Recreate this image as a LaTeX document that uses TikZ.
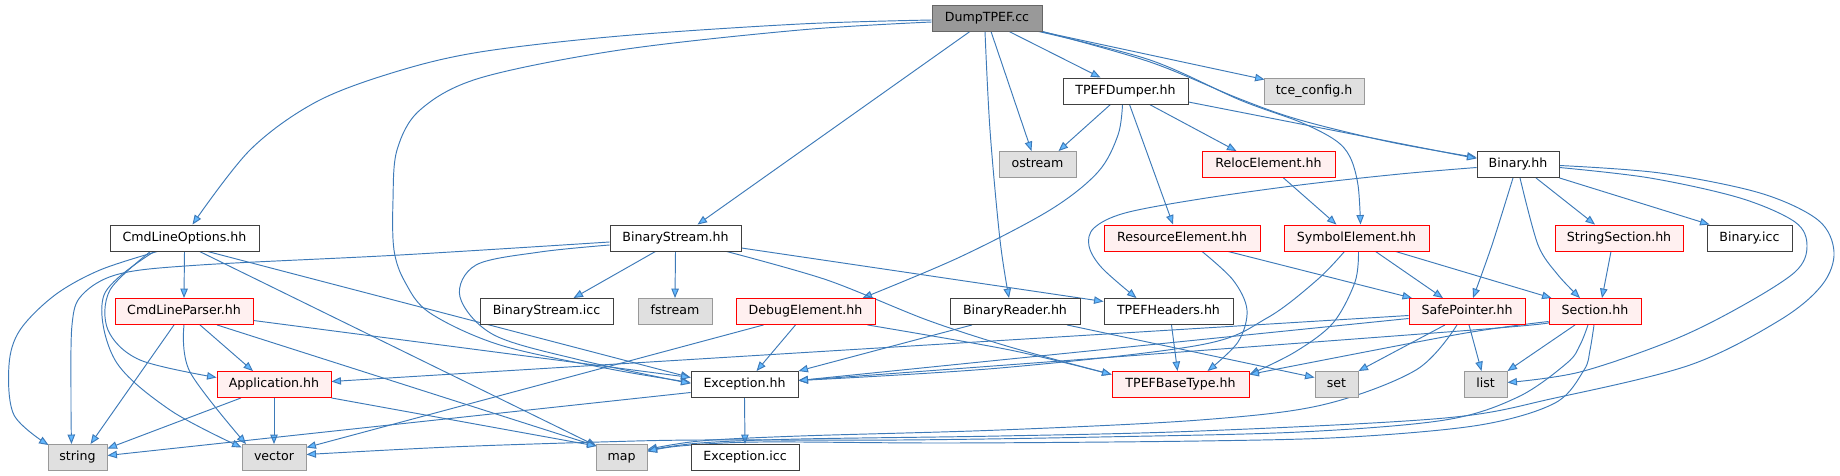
\documentclass[tikz,border=0pt]{standalone}
\usepackage{fontspec}
\setmainfont{DejaVu Sans}
\usetikzlibrary{arrows.meta}
\pgfdeclarelayer{bg}
\pgfsetlayers{bg,main}
\definecolor{edgec}{HTML}{3D7AB8}
\definecolor{arrowc}{HTML}{63B8FF}
\definecolor{wdraw}{HTML}{404040}
\definecolor{rfill}{HTML}{FFF0F0}
\definecolor{gfill}{HTML}{E0E0E0}
\definecolor{gdraw}{HTML}{999999}
\definecolor{dfill}{HTML}{999999}
\definecolor{ddraw}{HTML}{666666}
\begin{document}
\begin{tikzpicture}[x=1pt,y=-1pt,
  font=\fontsize{12.6}{15}\selectfont,
  box/.style={draw, line width=0.9pt, minimum height=26pt, inner sep=0pt, text height=9.6pt, text depth=3pt, anchor=center},
  wbox/.style={box, draw=wdraw, fill=white},
  rbox/.style={box, draw=red, fill=rfill},
  gbox/.style={box, draw=gdraw, fill=gfill},
  dbox/.style={box, draw=ddraw, fill=dfill},
  conn/.style={draw=edgec, line width=0.95pt, -{Triangle[length=9.5pt,width=7.5pt,fill=arrowc]}}
]
\useasboundingbox (0,0) rectangle (1840,476);

% row 0
\node[dbox, minimum width=110pt] (dump) at (987,18) {DumpTPEF.cc};
% row 1
\node[wbox, minimum width=125pt] (dumper) at (1125.5,91) {TPEFDumper.hh};
\node[gbox, minimum width=100pt] (tce) at (1314,91) {tce\_config.h};
% row 2
\node[gbox, minimum width=77pt] (ostream) at (1037.5,164.5) {ostream};
\node[rbox, minimum width=133pt] (reloc) at (1268.5,164.5) {RelocElement.hh};
\node[wbox, minimum width=82pt] (binary) at (1518,164.5) {Binary.hh};
% row 3
\node[wbox, minimum width=149pt] (cmdopt) at (184.5,238) {CmdLineOptions.hh};
\node[wbox, minimum width=131pt] (bstream) at (675.5,238) {BinaryStream.hh};
\node[rbox, minimum width=156pt] (resource) at (1182,238) {ResourceElement.hh};
\node[rbox, minimum width=145pt] (symbol) at (1356.5,238) {SymbolElement.hh};
\node[rbox, minimum width=128pt] (strsec) at (1619,238) {StringSection.hh};
\node[wbox, minimum width=85pt] (binicc) at (1749.5,238) {Binary.icc};
% row 4
\node[rbox, minimum width=138pt] (cmdparser) at (184,311.5) {CmdLineParser.hh};
\node[wbox, minimum width=133pt] (bsicc) at (546.5,311.5) {BinaryStream.icc};
\node[gbox, minimum width=74pt] (fstream) at (675,311.5) {fstream};
\node[rbox, minimum width=139pt] (debug) at (805.5,311.5) {DebugElement.hh};
\node[wbox, minimum width=130pt] (breader) at (1015,311.5) {BinaryReader.hh};
\node[wbox, minimum width=129pt] (headers) at (1168.5,311.5) {TPEFHeaders.hh};
\node[rbox, minimum width=116pt] (safeptr) at (1467,311.5) {SafePointer.hh};
\node[rbox, minimum width=92pt] (section) at (1595,311.5) {Section.hh};
% row 5
\node[rbox, minimum width=114pt] (app) at (274,384.5) {Application.hh};
\node[wbox, minimum width=107pt] (exc) at (744.5,384.5) {Exception.hh};
\node[rbox, minimum width=137pt] (basetype) at (1180.5,384.5) {TPEFBaseType.hh};
\node[gbox, minimum width=43pt] (set) at (1336.5,384.5) {set};
\node[gbox, minimum width=43pt] (list) at (1485.5,384.5) {list};
% row 6
\node[gbox, minimum width=59pt] (string) at (77.5,457.5) {string};
\node[gbox, minimum width=64pt] (vector) at (274,457.5) {vector};
\node[gbox, minimum width=51pt] (map) at (621.5,457.5) {map};
\node[wbox, minimum width=108pt] (excicc) at (745,457.5) {Exception.icc};

\begin{pgfonlayer}{bg}
% DumpTPEF.cc
\draw[conn] plot[smooth,tension=.55] coordinates {([yshift=-2pt]dump.west) (800,24) (620,36) (480,52) (395,72) (316,102) (250,150) ([xshift=8pt]cmdopt.north)};
\draw[conn] plot[smooth,tension=.55] coordinates {([yshift=-4pt]dump.west) (800,30) (620,50) (480,78) (420,110) (397,150) (393,200) (394,250) (405,282) (430,313) (500,345) (610,369) ([yshift=2pt]exc.west)};
\draw[conn] ([xshift=-17pt]dump.south) -- ([xshift=22pt]bstream.north);
\draw[conn] plot[smooth,tension=.55] coordinates {([xshift=-2pt]dump.south) (990,130) (1000,240) ([xshift=-6pt]breader.north)};
\draw[conn] ([xshift=4pt]dump.south) -- ([xshift=-6pt]ostream.north);
\draw[conn] ([xshift=22pt]dump.south) -- ([xshift=-25pt]dumper.north);
\draw[conn] ([xshift=-2pt]dump.south east) -- ([xshift=1pt,yshift=-2pt]tce.north west);
\draw[conn] plot[smooth,tension=.55] coordinates {(dump.south east) (1150,62) (1240,99) (1300,120) (1390,142) ([yshift=7pt]binary.west)};
\draw[conn] plot[smooth,tension=.55] coordinates {([xshift=-4pt]dump.south east) (1150,60) (1240,100) (1300,122) (1335,140) (1350,157) (1358,185) ([xshift=4pt]symbol.north)};
% TPEFDumper.hh
\draw[conn] ([yshift=-11pt]dumper.east) -- ([yshift=6pt]binary.west);
\draw[conn] ([xshift=-15pt]dumper.south) -- ([xshift=21pt]ostream.north);
\draw[conn] plot[smooth,tension=.55] coordinates {([xshift=-3pt]dumper.south) (1118,135) (1098,172) (1050,210) (960,257) ([xshift=57pt]debug.north)};
\draw[conn] ([xshift=4pt]dumper.south) -- ([xshift=-9pt]resource.north);
\draw[conn] ([xshift=24pt]dumper.south) -- ([xshift=-32pt]reloc.north);
% RelocElement.hh
\draw[conn] ([xshift=15pt]reloc.south) -- ([xshift=-20pt]symbol.north);
% Binary.hh
\draw[conn] plot[smooth,tension=.55] coordinates {([yshift=-3pt]binary.west) (1400,174) (1300,185) (1200,199) (1125,213) (1094,228) (1089,246) (1102,268) ([xshift=-32pt]headers.north)};
\draw[conn] plot[smooth,tension=.5] coordinates {([xshift=-5pt]binary.south) (1492,245) ([xshift=6pt]safeptr.north)};
\draw[conn] plot[smooth,tension=.5] coordinates {([xshift=2pt]binary.south) (1538,245) (1558,275) ([xshift=-15pt]section.north)};
\draw[conn] ([xshift=18pt]binary.south) -- ([xshift=-24pt]strsec.north);
\draw[conn] (binary.south east) -- ([xshift=3pt]binicc.north west);
\draw[conn] plot[smooth,tension=.55] coordinates {([yshift=-3pt]binary.east) (1650,178) (1740,198) (1795,222) (1807,246) (1795,272) (1740,307) (1673,340) (1580,372) ([yshift=2pt]list.east)};
\draw[conn] plot[smooth,tension=.55] coordinates {([yshift=-1pt]binary.east) (1660,173) (1760,193) (1818,220) (1834,252) (1822,285) (1780,320) (1690,365) (1555,398) (1445,418) (1200,431) (1000,436) (800,439) (700,443) ([yshift=7pt]map.east)};
% StringSection.hh
\draw[conn] ([xshift=-8pt]strsec.south) -- ([xshift=7pt]section.north);
% CmdLineOptions.hh
\draw[conn] plot[smooth,tension=.55] coordinates {([xshift=-27pt]cmdopt.south) (100,270) (55,295) (20,330) (9,365) (14,415) ([xshift=1pt,yshift=-1pt]string.north west)};
\draw[conn] plot[smooth,tension=.55] coordinates {([xshift=-34pt]cmdopt.south) (110,290) (108,330) (140,360) ([yshift=7pt]app.west)};
\draw[conn] plot[smooth,tension=.55] coordinates {([xshift=-30pt]cmdopt.south) (104,295) (115,360) (170,410) ([yshift=10pt]vector.west)};
\draw[conn] (cmdopt.south) -- (cmdparser.north);
\draw[conn] ([xshift=15pt]cmdopt.south) -- ([xshift=1pt,yshift=-2pt]map.north west);
\draw[conn] ([xshift=23pt]cmdopt.south) -- ([yshift=7pt]exc.west);
% CmdLineParser.hh
\draw[conn] ([xshift=-10pt]cmdparser.south) -- ([xshift=13pt]string.north);
\draw[conn] plot[smooth,tension=.55] coordinates {(cmdparser.south) (190,372) ([xshift=-28pt]vector.north)};
\draw[conn] ([xshift=16pt]cmdparser.south) -- ([xshift=-21pt]app.north);
\draw[conn] ([xshift=33pt]cmdparser.south) -- ([xshift=1pt,yshift=-2pt]map.north west);
\draw[conn] ([yshift=-9pt]cmdparser.east) -- ([yshift=7pt]exc.west);
% Application.hh
\draw[conn] ([xshift=-33pt]app.south) -- ([yshift=9pt]string.east);
\draw[conn] (app.south) -- (vector.north);
\draw[conn] (app.south east) -- ([xshift=1pt,yshift=-2pt]map.north west);
% Exception.hh
\draw[conn] (exc.south) -- (excicc.north);
\draw[conn] ([yshift=-8pt]exc.west) -- ([yshift=2pt]string.east);
% BinaryStream.hh
\draw[conn] plot[smooth,tension=.55] coordinates {([yshift=-4pt]bstream.west) (400,255) (200,265) (119,274) (82,295) (72,325) (71,400) ([xshift=-6pt]string.north)};
\draw[conn] plot[smooth,tension=.55] coordinates {([yshift=-7pt]bstream.west) (540,252) (476,265) (460,297) (494,335) (580,360) ([yshift=1pt]exc.west)};
\draw[conn] ([xshift=-20pt]bstream.south) -- ([xshift=27pt]bsicc.north);
\draw[conn] (bstream.south) -- (fstream.north);
\draw[conn] plot[smooth,tension=.5] coordinates {([xshift=51pt]bstream.south) (827,280) (927,320) (1010,347) ([yshift=10pt]basetype.west)};
\draw[conn] ([yshift=-10pt]bstream.east) -- ([yshift=10pt]headers.west);
% DebugElement.hh
\draw[conn] ([xshift=-42pt]debug.south) -- ([yshift=10pt]vector.east);
\draw[conn] ([xshift=-10pt]debug.south) -- ([xshift=12pt]exc.north);
\draw[conn] plot[smooth,tension=.5] coordinates {([xshift=62pt]debug.south) (1010,350) ([yshift=10pt]basetype.west)};
% BinaryReader.hh
\draw[conn] ([xshift=-43pt]breader.south) -- (exc.north east);
\draw[conn] ([xshift=52pt]breader.south) -- ([yshift=7pt]set.west);
% TPEFHeaders.hh
\draw[conn] ([xshift=3pt]headers.south) -- ([xshift=-3pt]basetype.north);
% ResourceElement.hh
\draw[conn] plot[smooth,tension=.55] coordinates {([xshift=20pt]resource.south) (1233,280) (1247,310) (1238,342) ([xshift=27pt]basetype.north)};
\draw[conn] ([xshift=46pt]resource.south) -- ([xshift=-55pt]safeptr.north);
% SymbolElement.hh
\draw[conn] plot[smooth,tension=.55] coordinates {([xshift=-12pt]symbol.south) (1317,280) (1267,318) (1200,345) (1000,368) ([yshift=4pt]exc.east)};
\draw[conn] plot[smooth,tension=.55] coordinates {([xshift=2pt]symbol.south) (1355,282) (1333,323) (1295,352) ([yshift=10pt]basetype.east)};
\draw[conn] ([xshift=19pt]symbol.south) -- ([xshift=-24pt]safeptr.north);
\draw[conn] ([xshift=39pt]symbol.south) -- ([xshift=3pt]section.north west);
% SafePointer.hh
\draw[conn] ([yshift=-4pt]safeptr.west) -- ([yshift=3pt]app.east);
\draw[conn] ([yshift=-7pt]safeptr.west) -- ([yshift=4pt]exc.east);
\draw[conn] ([xshift=-22pt]safeptr.south) -- (set.north east);
\draw[conn] plot[smooth,tension=.55] coordinates {([xshift=-10pt]safeptr.south) (1416,370) (1322,405) (1200,420) (1000,430) (800,436) (700,441) ([yshift=8pt]map.east)};
\draw[conn] ([xshift=2pt]safeptr.south) -- ([xshift=-4pt]list.north);
% Section.hh
\draw[conn] plot[smooth,tension=.5] coordinates {([yshift=-11pt]section.west) (1460,331) ([yshift=4pt]exc.east)};
\draw[conn] plot[smooth,tension=.5] coordinates {([yshift=-10pt]section.west) (1460,334) ([yshift=10pt]basetype.east)};
\draw[conn] ([xshift=-20pt]section.south) -- (list.north east);
\draw[conn] plot[smooth,tension=.55] coordinates {([xshift=-7pt]section.south) (1580,345) (1567,363) (1518,397) (1445,420) (1300,432) (1100,437) (900,440) (700,440) (600,442) (450,447) ([yshift=3pt]vector.east)};
\draw[conn] plot[smooth,tension=.55] coordinates {([xshift=-1pt]section.south) (1590,350) (1584,370) (1555,403) (1480,425) (1350,437) (1200,441) (950,443) (760,442) (680,446) ([yshift=6pt]map.east)};
\end{pgfonlayer}
\end{tikzpicture}
\end{document}
